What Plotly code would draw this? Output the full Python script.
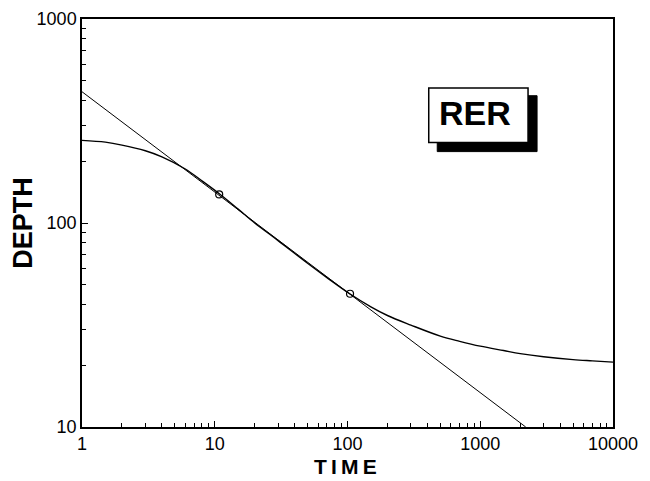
import plotly.graph_objects as go

# Data
line_time = [1, 2200]
line_depth = [440, 10]

curve_time = [1, 1.5, 2, 3, 4, 6, 8, 11, 15, 20, 30, 50, 70, 104, 150, 200, 300,
              500, 700, 1000, 1500, 2000, 3000, 5000, 7000, 10000]
curve_depth = [254, 249, 241, 226, 211, 184, 161, 138, 117, 100, 82, 63.5, 54, 45,
               38.8, 35.2, 31.6, 27.9, 26.3, 24.9, 23.7, 22.9, 22.1, 21.4, 21.1, 20.8]

point_time = [10.8, 104.5]
point_depth = [138, 45]

x_ticks = [1, 10, 100, 1000, 10000]
x_tick_text = ["1", "10", "100", "1000", "10000"]
y_ticks = [10, 100, 1000]
y_tick_text = ["10", "100", "1000"]

label_text = "RER"
x_title = "TIME"
y_title = "DEPTH"

FONT = "Liberation Sans, Arial, Helvetica, sans-serif"


def minor_vals(decades):
    return [m * d for d in decades for m in range(2, 10)]


fig = go.Figure()
fig.add_trace(go.Scatter(x=line_time, y=line_depth, mode="lines",
                         line=dict(color="black", width=1), showlegend=False))
fig.add_trace(go.Scatter(x=curve_time, y=curve_depth, mode="lines",
                         line=dict(color="black", width=1.4, shape="spline"),
                         showlegend=False))
fig.add_trace(go.Scatter(x=point_time, y=point_depth, mode="markers",
                         marker=dict(symbol="circle-open", size=7,
                                     color="black", line=dict(width=1.2)),
                         showlegend=False))

# Shadowed label box
fig.add_shape(type="rect", xref="paper", yref="paper",
              x0=0.669, x1=0.857, y0=0.675, y1=0.812,
              fillcolor="black", line=dict(color="black", width=1), layer="above")
fig.add_shape(type="rect", xref="paper", yref="paper",
              x0=0.653, x1=0.840, y0=0.697, y1=0.831,
              fillcolor="white", line=dict(color="black", width=1.5), layer="above")
fig.add_annotation(xref="paper", yref="paper", x=0.740, y=0.770,
                   xanchor="center", yanchor="middle",
                   text="<b>%s</b>" % label_text, showarrow=False,
                   font=dict(family=FONT, size=34, color="black"))

# x-axis title as an annotation so it sits clear of the tick labels
fig.add_annotation(xref="paper", yref="paper", x=0.497, y=-0.064,
                   xanchor="center", yanchor="top",
                   text="<b>%s</b>" % "&#8201;".join(x_title), showarrow=False,
                   font=dict(family=FONT, size=21, color="black"))

fig.update_xaxes(type="log", range=[0, 4],
                 tickvals=x_ticks, ticktext=x_tick_text,
                 ticks="inside", ticklen=6, tickwidth=1, tickcolor="black",
                 minor=dict(tickmode="array", tickvals=minor_vals([1, 10, 100, 1000]),
                            ticks="inside", ticklen=4, tickwidth=1,
                            tickcolor="black", showgrid=False),
                 showline=True, linecolor="black", linewidth=1.5, mirror=True,
                 showgrid=False, zeroline=False,
                 tickfont=dict(family=FONT, size=18, color="black"))
fig.update_yaxes(type="log", range=[1, 3],
                 tickvals=y_ticks, ticktext=y_tick_text,
                 ticks="inside", ticklen=6, tickwidth=1, tickcolor="black",
                 minor=dict(tickmode="array", tickvals=minor_vals([10, 100]),
                            ticks="inside", ticklen=4, tickwidth=1,
                            tickcolor="black", showgrid=False),
                 showline=True, linecolor="black", linewidth=1.5, mirror=True,
                 showgrid=False, zeroline=False,
                 tickfont=dict(family=FONT, size=18, color="black"),
                 title=dict(text="<b>%s</b>" % y_title,
                            font=dict(family=FONT, size=27, color="black"),
                            standoff=0))

# page has a default 8px body margin, compensate in figure size/margins
fig.update_layout(width=642, height=472,
                  margin=dict(l=74, r=37, t=11, b=53, autoexpand=False),
                  paper_bgcolor="white", plot_bgcolor="white",
                  font=dict(family=FONT, color="black"))

fig.write_html("out.html")
